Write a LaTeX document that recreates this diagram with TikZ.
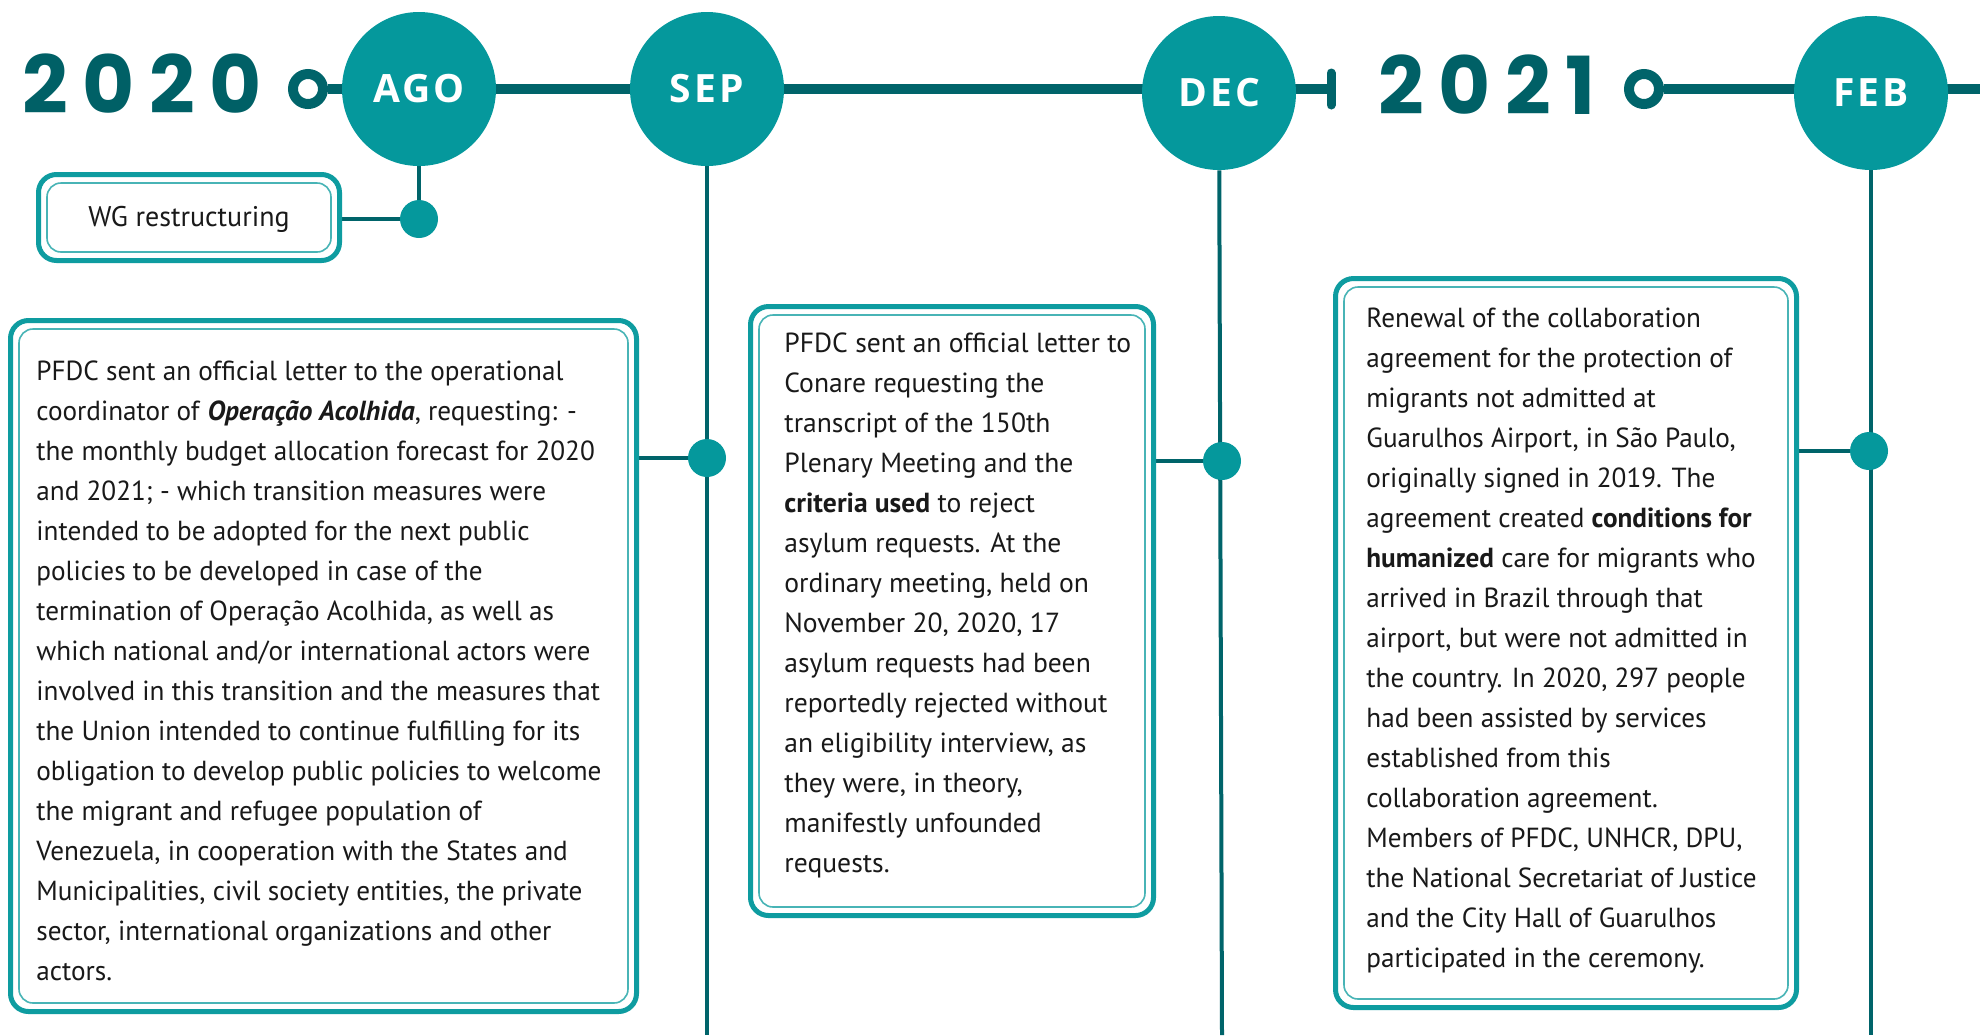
\documentclass[tikz,border=0pt]{standalone}
\usepackage{fontspec}
\setmainfont{PT Sans}
\newfontfamily\narrowfont[FakeStretch=0.985]{PT Sans}
\newfontfamily\monthfont[LetterSpace=8]{Open Sans}
\newfontfamily\yearfont[LetterSpace=18]{Poppins}
\usetikzlibrary{positioning,calc,backgrounds}

\definecolor{tealfill}{HTML}{05989C}
\definecolor{tealdark}{HTML}{00646A}
\definecolor{tealframe}{HTML}{0E9CA0}
\definecolor{teallight}{HTML}{48B4B6}
\definecolor{yearcol}{HTML}{006066}

% paragraph with a fixed line pitch, baseline on its first line
\newcommand{\cardtext}[2]{\vtop{\hsize=#1\raggedright\parindent=0pt\baselineskip=20pt\relax #2\par}}

\tikzset{
  month/.style={circle, fill=tealfill, minimum size=77pt, inner sep=0pt,
    font=\monthfont\bfseries\fontsize{19.5}{20}\selectfont, text=white},
  year/.style={anchor=base west, inner sep=0pt, text=yearcol,
    font=\yearfont\bfseries\fontsize{40}{40}\selectfont},
  ring/.style={circle, draw=tealdark, line width=5pt, minimum size=15pt, inner sep=0pt},
  dot/.style={circle, fill=tealfill, minimum size=19pt, inner sep=0pt},
  timeline/.style={draw=tealdark, line width=5pt},
  stem/.style={draw=tealdark, line width=2pt},
  endtick/.style={draw=tealdark, line width=4.5pt, line cap=round},
  card/.style={draw=tealframe, line width=2.5pt, rounded corners=9pt,
    outer sep=0pt, inner sep=0pt, anchor=north west},
  cardinner/.style={draw=teallight, line width=0.8pt, rounded corners=7pt},
  bodytext/.style={anchor=base west, inner sep=0pt, text=black!90,
    font=\fontsize{13.8}{20}\selectfont},
  narrowtext/.style={bodytext, font=\narrowfont\fontsize{13.8}{20}\selectfont}
}

\begin{document}
\begin{tikzpicture}[x=0.5pt, y=-0.5pt]
  \useasboundingbox (0,0) rectangle (1980,1035);

  % years and months
  \node[year] (y2020) at (22,113) {2020};
  \node[ring] (r2020) at (308,89) {};
  \node[month] (ago) at (419,89) {AGO};
  \node[month] (sep) at (707,89) {SEP};
  \node[month] (dec) at (1219,93) {DEC};
  \coordinate (decend) at (1331,89);
  \node[year] (y2021) at (1378,114) {2021};
  \node[ring] (r2021) at (1644,89) {};
  \node[month] (feb) at (1871,93) {FEB};
  \coordinate (lineend) at (1980,89);

  % event dots
  \node[dot] (agodot) at (419,219) {};
  \node[dot] (sepdot) at (707,458) {};
  \node[dot] (decdot) at (1222,461) {};
  \node[dot] (febdot) at (1869,451) {};
  \coordinate (sepfoot) at (707,1035);
  \coordinate (decfoot) at (1222,1035);
  \coordinate (febfoot) at (1871,1035);

  % cards
  \node[card, minimum width=150.5pt, minimum height=43pt] (wgcard) at (38.5,174.5) {};
  \node[card, minimum width=313pt, minimum height=345.5pt] (card1) at (10.5,320.5) {};
  \node[card, minimum width=201.5pt, minimum height=304.5pt] (card2) at (750.5,306.5) {};
  \node[card, minimum width=230.5pt, minimum height=364.5pt] (card3) at (1335.5,278.5) {};
  \foreach \c in {wgcard,card1,card2,card3}
    \draw[cardinner] ($(\c.north west)+(8.5,8.5)$) rectangle ($(\c.south east)+(-8.5,-8.5)$);

  \node[narrowtext, anchor=center, font=\narrowfont\fontsize{14.2}{20}\selectfont]
    (wgtext) at ($(wgcard)+(0,2)$) {WG restructuring};

  \node[narrowtext] (text1) at (36,380) {\cardtext{300pt}{%
PFDC sent an official letter to the operational\\
coordinator of \textbf{\textit{Operação Acolhida}}, requesting: -\\
the monthly budget allocation forecast for 2020\\
and 2021; - which transition measures were\\
intended to be adopted for the next public\\
policies to be developed in case of the\\
termination of Operação Acolhida, as well as\\
which national and/or international actors were\\
involved in this transition and the measures that\\
the Union intended to continue fulfilling for its\\
obligation to develop public policies to welcome\\
the migrant and refugee population of\\
Venezuela, in cooperation with the States and\\
Municipalities, civil society entities, the private\\
sector, international organizations and other\\
actors.}};

  \node[bodytext] (text2) at (784,352) {\cardtext{190pt}{%
PFDC sent an official letter to\\
Conare requesting the\\
transcript of the 150th\\
Plenary Meeting and the\\
\textbf{criteria used} to reject\\
asylum requests. At the\\
ordinary meeting, held on\\
November 20, 2020, 17\\
asylum requests had been\\
reportedly rejected without\\
an eligibility interview, as\\
they were, in theory,\\
manifestly unfounded\\
requests.}};

  \node[narrowtext] (text3) at (1366,327) {\cardtext{225pt}{%
Renewal of the collaboration\\
agreement for the protection of\\
migrants not admitted at\\
Guarulhos Airport, in São Paulo,\\
originally signed in 2019. The\\
agreement created \textbf{conditions for}\\
\textbf{humanized} care for migrants who\\
arrived in Brazil through that\\
airport, but were not admitted in\\
the country. In 2020, 297 people\\
had been assisted by services\\
established from this\\
collaboration agreement.\\
Members of PFDC, UNHCR, DPU,\\
the National Secretariat of Justice\\
and the City Hall of Guarulhos\\
participated in the ceremony.}};

  \begin{scope}[on background layer]
    \fill[white] (0,0) rectangle (1980,1035);
    \draw[timeline] (r2020) -- (decend);
    \draw[endtick] ($(decend)+(0,-16)$) -- ($(decend)+(0,16)$);
    \draw[timeline] (r2021) -- (lineend);
    \draw[stem] (ago) -- (agodot);
    \draw[stem] (sep) -- (sepfoot);
    \draw[stem] (dec) -- (decfoot);
    \draw[stem] (feb) -- (febfoot);
    \draw[stem] (wgcard.east |- agodot) -- (agodot);
    \draw[stem] (card1.east |- sepdot) -- (sepdot);
    \draw[stem] (card2.east |- decdot) -- (decdot);
    \draw[stem] (card3.east |- febdot) -- (febdot);
  \end{scope}
\end{tikzpicture}
\end{document}
